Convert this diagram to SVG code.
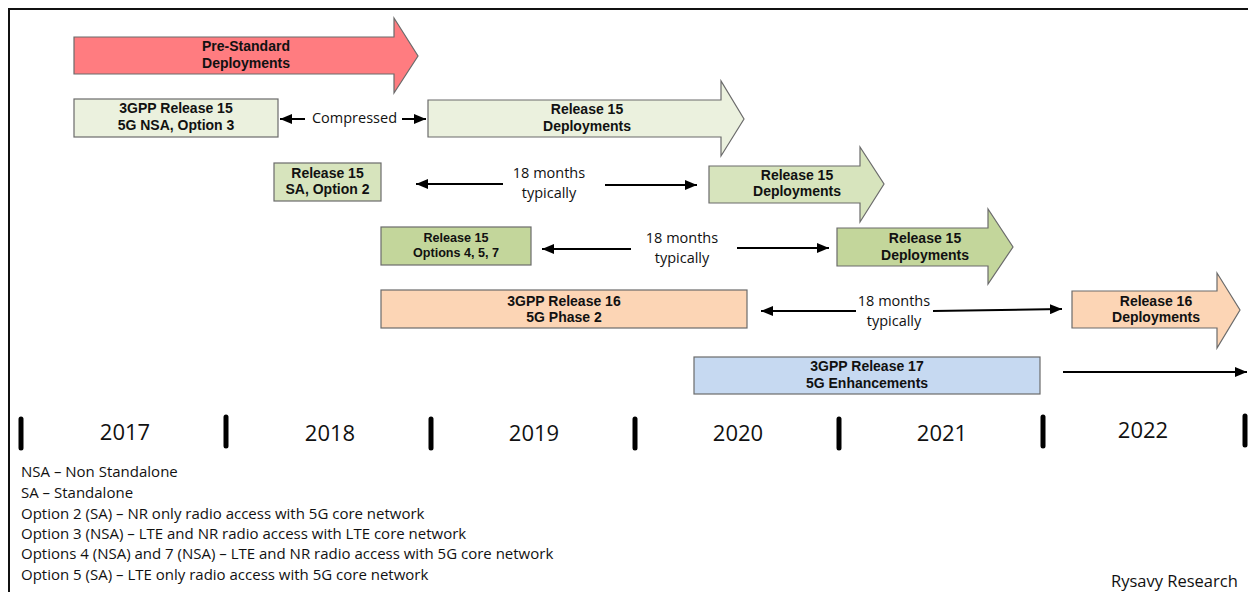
<svg xmlns="http://www.w3.org/2000/svg" width="1248" height="592" viewBox="0 0 1248 592">
<style>
.bx{stroke:#6b6b6b;stroke-width:1.2}
.lbl{font-family:"Liberation Sans",Arial,sans-serif;font-weight:bold;font-size:14px;fill:#111;text-anchor:middle}
.sm{font-size:12.6px}
.cap{font-family:"Open Sans","Noto Sans",sans-serif;font-size:14.5px;fill:#111;text-anchor:middle}
.yr{font-family:"Open Sans","Noto Sans",sans-serif;font-size:22px;fill:#111;text-anchor:middle}
.lg{font-family:"Open Sans","Noto Sans",sans-serif;font-size:15px;fill:#111}
.con{stroke:#000;stroke-width:2;fill:none;marker-end:url(#ah)}
.tick{stroke:#000;stroke-width:5;stroke-linecap:round}
.g1{fill:#ebf1de}.g2{fill:#d7e4bd}.g3{fill:#c3d69b}.pk{fill:#ff7c80}.pe{fill:#fcd5b5}.bl{fill:#c6d9f1}
</style>
<defs>
<marker id="ah" markerUnits="userSpaceOnUse" markerWidth="13" markerHeight="10" refX="12" refY="5" orient="auto">
<path d="M0,0 L12,5 L0,10 z" fill="#000"/>
</marker>
</defs>
<rect width="1248" height="592" fill="#fff"/>
<path d="M9,592 V9 H1248" fill="none" stroke="#111" stroke-width="2"/>

<g id="pre-standard">
<path class="bx pk" d="M74,37 H394 V18 L418,56 L394,93 V74 H74 z"/>
<text class="lbl" x="246" y="51">Pre-Standard</text>
<text class="lbl" x="246" y="68">Deployments</text>
</g>

<g id="rel15-nsa">
<rect class="bx g1" x="74" y="99" width="204" height="38"/>
<text class="lbl" x="176" y="113">3GPP Release 15</text>
<text class="lbl" x="176" y="130">5G NSA, Option 3</text>
</g>

<g id="rel15-deploy-1">
<path class="bx g1" d="M428,100 H721 V81 L744,119 L721,156 V137 H428 z"/>
<text class="lbl" x="587" y="114">Release 15</text>
<text class="lbl" x="587" y="131">Deployments</text>
</g>

<g id="rel15-sa">
<rect class="bx g2" x="274" y="163" width="107" height="38"/>
<text class="lbl" x="327.5" y="178">Release 15</text>
<text class="lbl" x="327.5" y="194">SA, Option 2</text>
</g>

<g id="rel15-deploy-2">
<path class="bx g2" d="M709,166 H860 V147 L884,184 L860,222 V203 H709 z"/>
<text class="lbl" x="797" y="180">Release 15</text>
<text class="lbl" x="797" y="196">Deployments</text>
</g>

<g id="rel15-opts">
<rect class="bx g3" x="381" y="227" width="150" height="38"/>
<text class="lbl sm" x="456" y="242">Release 15</text>
<text class="lbl sm" x="456" y="257">Options 4, 5, 7</text>
</g>

<g id="rel15-deploy-3">
<path class="bx g3" d="M837,228 H988 V209 L1013,247 L988,284 V266 H837 z"/>
<text class="lbl" x="925" y="243">Release 15</text>
<text class="lbl" x="925" y="260">Deployments</text>
</g>

<g id="rel16">
<rect class="bx pe" x="381" y="290" width="366" height="38"/>
<text class="lbl" x="564" y="306">3GPP Release 16</text>
<text class="lbl" x="564" y="322">5G Phase 2</text>
</g>

<g id="rel16-deploy">
<path class="bx pe" d="M1072,291 H1217 V273 L1240,310 L1217,348 V328 H1072 z"/>
<text class="lbl" x="1156" y="306">Release 16</text>
<text class="lbl" x="1156" y="322">Deployments</text>
</g>

<g id="rel17">
<rect class="bx bl" x="694" y="357" width="346" height="37"/>
<text class="lbl" x="867" y="371">3GPP Release 17</text>
<text class="lbl" x="867" y="388">5G Enhancements</text>
</g>

<g id="connectors">
<line class="con" x1="305" y1="119" x2="280" y2="119"/>
<line class="con" x1="402" y1="119" x2="426" y2="119"/>
<line class="con" x1="503" y1="184" x2="416" y2="184"/>
<line class="con" x1="605" y1="185" x2="697" y2="185"/>
<line class="con" x1="631" y1="249" x2="542" y2="249"/>
<line class="con" x1="737" y1="248" x2="829" y2="248"/>
<line class="con" x1="856" y1="311" x2="761" y2="311"/>
<line class="con" x1="933" y1="311" x2="1062" y2="309"/>
<line class="con" x1="1063" y1="372" x2="1247" y2="372"/>
</g>

<g id="connector-labels">
<text class="cap" x="354.5" y="123">Compressed</text>
<text class="cap" x="549" y="178">18 months</text>
<text class="cap" x="549" y="198">typically</text>
<text class="cap" x="682" y="243">18 months</text>
<text class="cap" x="682" y="263">typically</text>
<text class="cap" x="894" y="306">18 months</text>
<text class="cap" x="894" y="326">typically</text>
</g>

<g id="timeline">
<line class="tick" x1="21" y1="419" x2="21" y2="448"/>
<line class="tick" x1="226" y1="417" x2="226" y2="446"/>
<line class="tick" x1="431" y1="419" x2="431" y2="448"/>
<line class="tick" x1="635" y1="419" x2="635" y2="448"/>
<line class="tick" x1="839" y1="419" x2="839" y2="448"/>
<line class="tick" x1="1043" y1="417" x2="1043" y2="446"/>
<line class="tick" x1="1245" y1="416" x2="1245" y2="445"/>
<text class="yr" x="125" y="440">2017</text>
<text class="yr" x="330" y="441">2018</text>
<text class="yr" x="534" y="441">2019</text>
<text class="yr" x="738" y="441">2020</text>
<text class="yr" x="942" y="441">2021</text>
<text class="yr" x="1143" y="438">2022</text>
</g>

<g id="legend">
<text class="lg" x="21" y="477">NSA – Non Standalone</text>
<text class="lg" x="21" y="498">SA – Standalone</text>
<text class="lg" x="21" y="519">Option 2 (SA) – NR only radio access with 5G core network</text>
<text class="lg" x="21" y="539">Option 3 (NSA) – LTE and NR radio access with LTE core network</text>
<text class="lg" x="21" y="559">Options 4 (NSA) and 7 (NSA) – LTE and NR radio access with 5G core network</text>
<text class="lg" x="21" y="580">Option 5 (SA) – LTE only radio access with 5G core network</text>
<text class="lg" x="1111" y="587" style="font-size:16.5px">Rysavy Research</text>
</g>
</svg>
